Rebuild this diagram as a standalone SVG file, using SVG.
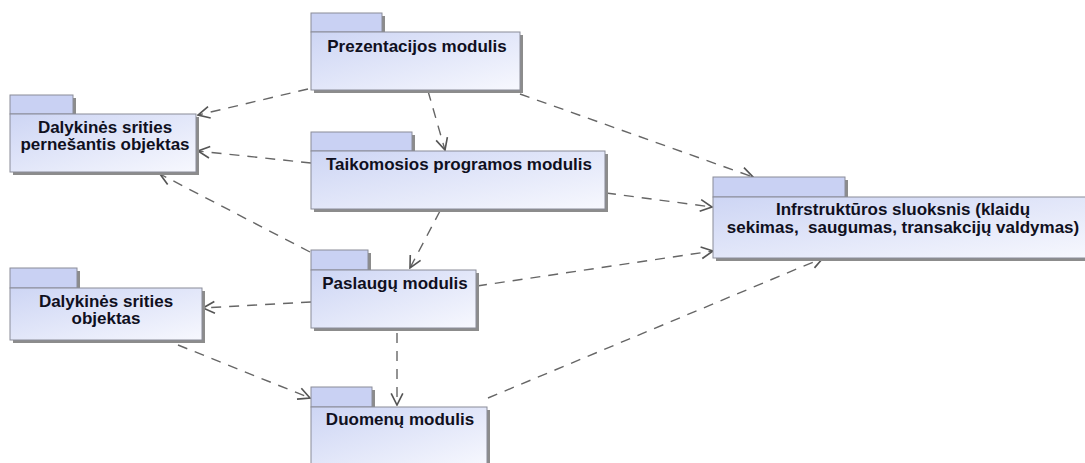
<svg xmlns="http://www.w3.org/2000/svg" width="1085" height="463" viewBox="0 0 1085 463">
  <style>
    .shadow { fill: #8c8c8c; }
    .tab { fill: #c9d1f3; stroke: #8a8c98; stroke-width: 1; }
    .body { fill: url(#pkgFill); stroke: #8a8c98; stroke-width: 1; }
    .label { font-family: "Liberation Sans", Arial, sans-serif; font-weight: bold; font-size: 17px; fill: #10101e; text-anchor: middle; }
    .dep { fill: none; stroke: #666; stroke-width: 1.4; stroke-dasharray: 10 8; marker-end: url(#open); }
  </style>
  <defs>
    <linearGradient id="pkgFill" x1="0" y1="0" x2="1" y2="1">
      <stop offset="0" stop-color="#cdd5f4"/>
      <stop offset="1" stop-color="#f7f8fe"/>
    </linearGradient>
    <marker id="open" markerUnits="userSpaceOnUse" markerWidth="14" markerHeight="14" refX="10" refY="5" orient="auto" viewBox="-1 -1 12 12">
      <path d="M0,0 L10,5 L0,10" fill="none" stroke="#555" stroke-width="1.4"/>
    </marker>
  </defs>

  <rect width="1085" height="463" fill="#ffffff"/>

  <!-- dependency connectors -->
  <g id="connectors">
    <line class="dep" x1="308" y1="89" x2="198" y2="115"/>
    <line class="dep" x1="428" y1="91" x2="445" y2="150"/>
    <line class="dep" x1="520" y1="94" x2="753" y2="177"/>
    <line class="dep" x1="311" y1="163" x2="198" y2="151"/>
    <line class="dep" x1="606" y1="193" x2="712" y2="207"/>
    <line class="dep" x1="440" y1="211" x2="410" y2="268"/>
    <line class="dep" x1="310" y1="252" x2="160" y2="174"/>
    <line class="dep" x1="477" y1="286" x2="713" y2="251"/>
    <line class="dep" x1="311" y1="302" x2="203" y2="308"/>
    <line class="dep" x1="397" y1="333" x2="397" y2="405"/>
    <line class="dep" x1="178" y1="345" x2="310" y2="398"/>
    <line class="dep" x1="488" y1="398" x2="823" y2="258"/>
  </g>

  <g id="prezentacijos">
    <rect class="shadow" x="314" y="16" width="71" height="20"/>
    <rect class="shadow" x="314" y="35" width="209" height="58"/>
    <rect class="tab" x="311" y="13" width="71" height="19"/>
    <rect class="body" x="311" y="32" width="209" height="58"/>
    <text class="label" x="417" y="52">Prezentacijos modulis</text>
  </g>

  <g id="dalykines-pernesantis">
    <rect class="shadow" x="13" y="98" width="63" height="20"/>
    <rect class="shadow" x="13" y="117" width="186" height="58"/>
    <rect class="tab" x="10" y="95" width="63" height="19"/>
    <rect class="body" x="10" y="114" width="186" height="58"/>
    <text class="label" x="105" y="133">Dalykinės srities</text>
    <text class="label" x="105" y="150">pernešantis objektas</text>
  </g>

  <g id="taikomosios">
    <rect class="shadow" x="314" y="135" width="101" height="20"/>
    <rect class="shadow" x="314" y="154" width="294" height="58"/>
    <rect class="tab" x="311" y="132" width="101" height="19"/>
    <rect class="body" x="311" y="151" width="294" height="58"/>
    <text class="label" x="459" y="170">Taikomosios programos modulis</text>
  </g>

  <g id="infrastrukturos">
    <rect class="shadow" x="716" y="180" width="132" height="20"/>
    <rect class="shadow" x="716" y="200" width="380" height="61"/>
    <rect class="tab" x="713" y="177" width="132" height="20"/>
    <rect class="body" x="713" y="197" width="380" height="61"/>
    <text class="label" x="903" y="215">Infrstruktūros sluoksnis (klaidų</text>
    <text class="label" x="903" y="233" xml:space="preserve">sekimas,  saugumas, transakcijų valdymas)</text>
  </g>

  <g id="paslaugu">
    <rect class="shadow" x="314" y="253" width="57" height="20"/>
    <rect class="shadow" x="314" y="273" width="165" height="58"/>
    <rect class="tab" x="311" y="250" width="57" height="20"/>
    <rect class="body" x="311" y="270" width="165" height="58"/>
    <text class="label" x="395" y="289">Paslaugų modulis</text>
  </g>

  <g id="dalykines-objektas">
    <rect class="shadow" x="13" y="271" width="67" height="20"/>
    <rect class="shadow" x="13" y="291" width="192" height="52"/>
    <rect class="tab" x="10" y="268" width="67" height="20"/>
    <rect class="body" x="10" y="288" width="192" height="52"/>
    <text class="label" x="106" y="307">Dalykinės srities</text>
    <text class="label" x="106" y="324">objektas</text>
  </g>

  <g id="duomenu">
    <rect class="shadow" x="314" y="390" width="61" height="20"/>
    <rect class="shadow" x="314" y="410" width="176" height="60"/>
    <rect class="tab" x="311" y="387" width="61" height="20"/>
    <rect class="body" x="311" y="407" width="176" height="60"/>
    <text class="label" x="400" y="425">Duomenų modulis</text>
  </g>
</svg>
